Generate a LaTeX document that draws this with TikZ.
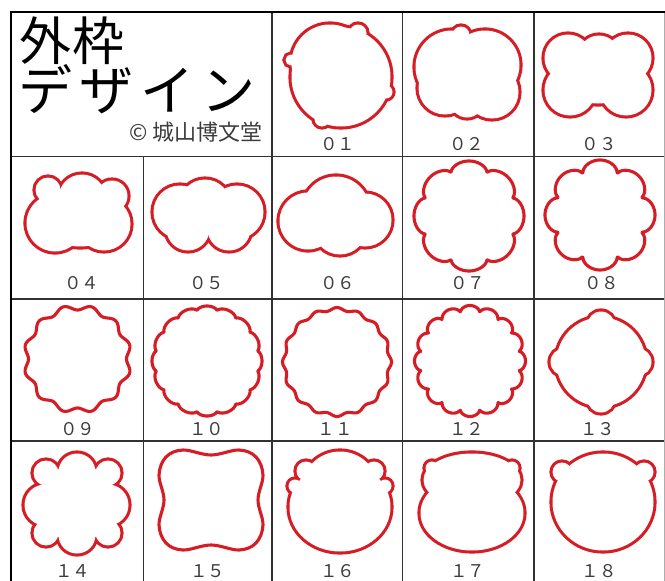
\documentclass[tikz,border=0pt]{standalone}
\usepackage{fontspec}
\newfontfamily\jp{Noto Sans CJK JP}
\definecolor{shapered}{RGB}{214,28,36}
\definecolor{gridc}{RGB}{50,50,50}
\definecolor{lblc}{RGB}{60,60,60}
\newcommand\cloudshape[1]{%
  \foreach \cx/\cy/\ca/\cb in {#1}{\draw[shapered, line width=6.2pt] (\cx,\cy) ellipse [x radius=\ca-1.5, y radius=\cb-1.5];}%
  \foreach \cx/\cy/\ca/\cb in {#1}{\fill[white] (\cx,\cy) ellipse [x radius=\ca-1.5, y radius=\cb-1.5];}%
}
\begin{document}
\begin{tikzpicture}[x=1pt,y=-1pt,
  shp/.style={draw=shapered, line width=3.1pt, line join=round},
  gridline/.style={draw=gridc, line width=1.3pt},
  outerline/.style={draw=black, line width=2.6pt},
  lbl/.style={font=\jp\fontsize{17.5}{18}\selectfont, text=lblc, inner sep=0pt, anchor=base}]
\useasboundingbox (0,0) rectangle (665,581);
\fill[white] (0,0) rectangle (665,581);
% grid
\draw[gridline] (12,156.5) -- (665,156.5);
\draw[gridline] (12,299) -- (665,299);
\draw[gridline] (12,441) -- (665,441);
\draw[gridline] (143.5,156.5) -- (143.5,581);
\draw[gridline] (272,12) -- (272,581);
\draw[gridline] (402.5,12) -- (402.5,581);
\draw[gridline] (534,12) -- (534,581);
\draw[draw=gridc!40, line width=1pt] (664.5,12) -- (664.5,581);
\draw[outerline] (9.7,12) -- (665,12);
\draw[outerline] (11,12) -- (11,581);
% title
\node[anchor=base west, inner sep=0pt, text height=40pt, text depth=2pt, font=\jp\fontsize{52}{52}\selectfont\addfontfeature{LetterSpace=3}] (t1) at (19,60) {外枠};
\node[anchor=base west, inner sep=0pt, text height=40pt, text depth=2pt, font=\jp\fontsize{54}{54}\selectfont\addfontfeature{LetterSpace=13}] (t2) at (18,110) {デザイン};
\node[anchor=base east, inner sep=0pt, font=\jp\fontsize{22}{22}\selectfont, text=lblc] (cr) at (263,140.5) {© 城山博文堂};
% 01-06 clouds
\cloudshape{341/77/51/51, 330/63/40/40, 358/33/10/10, 291/60/7/7, 386/92/8/8, 322/119/9/9}
\cloudshape{452/67/38/38, 485/65/36/36, 461/35/10/10, 445/88/28/28, 492/92/28/28, 467/101/18/18}
\cloudshape{568/58/25/25, 570/90/27/27, 628/58/25/25, 626/90/27/27, 599/56/22/22, 598/74/42/31}
\cloudshape{48/190/14/14, 82/198/25/25, 112/196/17/17, 55/223/30/30, 104/224/28/28, 80/222/37/26}
\cloudshape{205/205/27/27, 180/212/28/28, 237/212/28/28, 188/229/23/23, 229/229/23/23}
\cloudshape{308/221/30/30, 336/210/35/35, 365/220/28/28, 340/228/28/28}
% 07-12 regular scallops
\draw[shp, shift={(469,216)}] plot[domain=0:360, samples=361] (\x:{46+9*sqrt(abs(cos(4*\x)))}) -- cycle;
\draw[shp, shift={(600,215)}] plot[domain=0:360, samples=361] (\x:{43.5+11.5*sqrt(abs(cos(4*\x)))}) -- cycle;
\draw[shp, shift={(77.5,359)}] plot[domain=0:360, samples=361] (\x:{51.5-2.5*cos(12*\x)}) -- cycle;
\draw[shp, shift={(207,361)}] plot[domain=0:360, samples=361] (\x:{51+4*sqrt(abs(cos(8*\x)))}) -- cycle;
\draw[shp, shift={(337,362)}] plot[domain=0:360, samples=361] (\x:{53+1.5*cos(16*\x)}) -- cycle;
\draw[shp, shift={(470,361)}] plot[domain=0:360, samples=361] (\x:{49+6.5*sqrt(abs(cos(8*\x)))}) -- cycle;
% 13-14
\cloudshape{601/362/46/46, 601/325/15/15, 638/362/15/15, 601/399/15/15, 564/362/15/15}
\cloudshape{77/503/40/40, 77/472/20/20, 77/535/20/20, 108/505/22/22, 45/505/22/22, 108/473/14/14, 46/473/14/14, 108/533/14/14, 46/533/14/14}
% 15
\draw[shp, shift={(211,500)}] plot[smooth cycle, tension=0.6] coordinates {(0,-45) (28,-50) (45,-43) (52,-25) (47,0) (52,25) (45,43) (28,50) (0,45) (-28,50) (-45,43) (-52,25) (-47,0) (-52,-25) (-45,-43) (-28,-50)};
% 16-18
\cloudshape{340/507/52/46, 340/490/40/40, 306/471/11/11, 374/471/11/11, 295/486/8/8, 385/486/8/8}
\cloudshape{472/513/53/39, 472/480/50/28, 432/468/8/8, 512/468/8/8}
\cloudshape{603/502/52/50, 562/472/11/11, 644/472/11/11}
% labels
\node[lbl] (l01) at (337.5,150) {０１};
\node[lbl] (l02) at (466.7,150) {０２};
\node[lbl] (l03) at (599,150) {０３};
\node[lbl] (l04) at (81.7,289.5) {０４};
\node[lbl] (l05) at (206.7,289.5) {０５};
\node[lbl] (l06) at (337.5,289.5) {０６};
\node[lbl] (l07) at (467.5,289.5) {０７};
\node[lbl] (l08) at (601.7,289.5) {０８};
\node[lbl] (l09) at (77.5,435.5) {０９};
\node[lbl] (l10) at (206.7,435.5) {１０};
\node[lbl] (l11) at (335,435.5) {１１};
\node[lbl] (l12) at (466.7,435.5) {１２};
\node[lbl] (l13) at (597.5,435.5) {１３};
\node[lbl] (l14) at (72.5,577) {１４};
\node[lbl] (l15) at (207.5,577) {１５};
\node[lbl] (l16) at (337.5,577) {１６};
\node[lbl] (l17) at (467.5,577) {１７};
\node[lbl] (l18) at (599,577) {１８};
\end{tikzpicture}
\end{document}
